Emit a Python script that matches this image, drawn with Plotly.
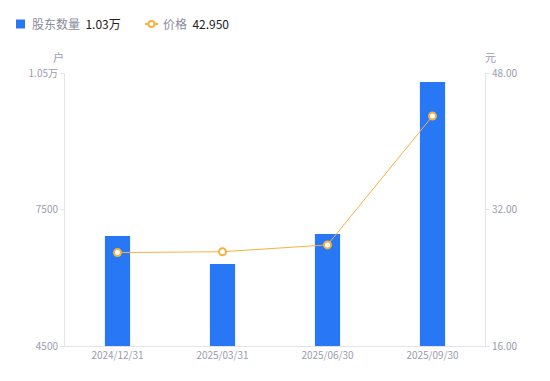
import plotly.graph_objects as go

categories = ["2024/12/31", "2025/03/31", "2025/06/30", "2025/09/30"]
holders = [6920, 6300, 6960, 10300]
prices = [26.95, 27.05, 27.85, 42.95]
left_ticks = [4500, 7500, 10500]
left_labels = ["4500", "7500", "1.05万"]
right_ticks = [16, 32, 48]
right_labels = ["16.00", "32.00", "48.00"]
legend_names = ["股东数量", "价格"]
legend_values = ["1.03万", "42.950"]

font = "Noto Sans CJK SC, Noto Sans, sans-serif"
tick_color = "#9a9cae"
axis_color = "#e3e4e8"
bar_color = "#2878f5"
line_color = "#f6b13e"

W, H = 550, 381
L, R, T, B = 65, 65, 73, 35
PW, PH = W - L - R, H - T - B


def px(x):
    return (x - L) / PW


def py(y):
    return (H - B - y) / PH


fig = go.Figure()
fig.add_trace(go.Bar(
    x=categories, y=holders, name=legend_names[0], showlegend=False,
    marker=dict(color=bar_color, line=dict(width=0)), width=0.24, yaxis="y",
))
fig.add_trace(go.Scatter(
    x=categories, y=prices, name=legend_names[1], showlegend=False,
    mode="lines+markers", yaxis="y2",
    line=dict(color=line_color, width=1),
    marker=dict(size=7, color="#ffffff", line=dict(color=line_color, width=2)),
))

shapes = [
    dict(type="rect", xref="paper", yref="paper", x0=px(16), x1=px(25), y0=py(28.5), y1=py(19.5),
         fillcolor=bar_color, line=dict(width=0)),
    dict(type="line", xref="paper", yref="paper", x0=px(145), x1=px(158), y0=py(24), y1=py(24),
         line=dict(color=line_color, width=2)),
    dict(type="circle", xref="paper", yref="paper", x0=px(148.5), x1=px(154.5), y0=py(27), y1=py(21),
         fillcolor="white", line=dict(color=line_color, width=2)),
]

annotations = [
    dict(text="户", xref="paper", yref="paper", x=px(58), y=py(57), xanchor="center", yanchor="middle",
         showarrow=False, font=dict(size=11, color=tick_color)),
    dict(text="元", xref="paper", yref="paper", x=px(490), y=py(57), xanchor="center", yanchor="middle",
         showarrow=False, font=dict(size=11, color=tick_color)),
    dict(text=f"{legend_names[0]}  <span style='color:#222'>{legend_values[0]}</span>",
         xref="paper", yref="paper", x=px(30), y=py(24), xanchor="left", yanchor="middle",
         showarrow=False, font=dict(size=12, color="#8a8c9c")),
    dict(text=f"{legend_names[1]}  <span style='color:#222'>{legend_values[1]}</span>",
         xref="paper", yref="paper", x=px(161), y=py(24), xanchor="left", yanchor="middle",
         showarrow=False, font=dict(size=12, color="#8a8c9c")),
]

fig.update_layout(
    width=W, height=H,
    margin=dict(l=L, r=R, t=T, b=B, autoexpand=False),
    paper_bgcolor="white", plot_bgcolor="white",
    font=dict(family=font, size=11, color=tick_color),
    showlegend=False,
    bargap=0.5,
    xaxis=dict(showgrid=False, showline=True, linecolor=axis_color, linewidth=1,
               ticks="", tickfont=dict(size=10, color=tick_color)),
    yaxis=dict(range=[4500, 10500], tickvals=left_ticks, ticktext=left_labels,
               showgrid=False, showline=True, linecolor=axis_color, ticks="outside",
               ticklen=4, tickcolor=axis_color, zeroline=False,
               tickfont=dict(size=10, color=tick_color)),
    yaxis2=dict(range=[16, 48], tickvals=right_ticks, ticktext=right_labels,
                overlaying="y", side="right", showgrid=False, showline=True,
                linecolor=axis_color, ticks="outside", ticklen=4, tickcolor=axis_color,
                zeroline=False, tickfont=dict(size=10, color=tick_color)),
    shapes=shapes,
    annotations=annotations,
)

fig.write_html("out.html", config={"displayModeBar": False},
               post_script="document.body.style.margin='0';")
